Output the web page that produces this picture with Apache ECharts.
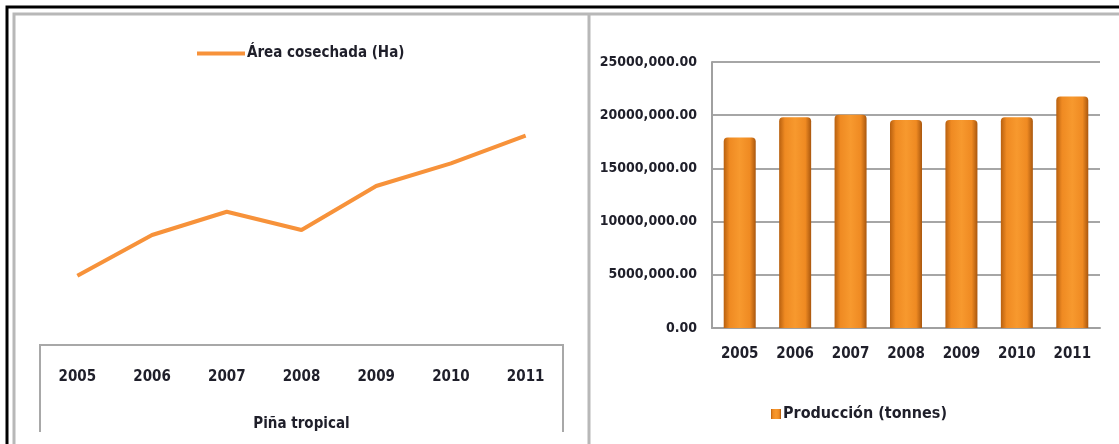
<!DOCTYPE html>
<html>
<head>
<meta charset="utf-8">
<script src="https://cdn.jsdelivr.net/npm/echarts@6/dist/echarts.min.js"></script>
<style>
  html, body { margin: 0; padding: 0; background: #fff; }
  #chart { width: 1119px; height: 444px; }
</style>
</head>
<body>
<div id="chart"></div>
<script>
// data
const years = ['2005', '2006', '2007', '2008', '2009', '2010', '2011'];
// left chart has no value axis, so the hectares are estimated on a hidden scale
const areaHa = [848600, 877200, 893500, 880700, 911600, 927500, 946900];
const production = [17900000, 19800000, 20050000, 19550000, 19550000, 19800000, 21750000];
const prodTicks = [0, 5000000, 10000000, 15000000, 20000000, 25000000];

const font = "'Liberation Sans Narrow', 'Arial Narrow', 'DejaVu Sans Condensed', sans-serif";
const ink = '#1f1f2a';

function prodLabel(v) {
    if (v === 0) return '0.00';
    return (v / 1000) + ',000.00';
}

const chart = echarts.init(document.getElementById('chart'));

const option = {
    animation: false,
    textStyle: { fontFamily: font, fontWeight: 'bold' },
    legend: [
        {
            data: ['Área cosechada (Ha)'],
            left: 192, top: 41,
            icon: 'rect', itemWidth: 48, itemHeight: 4, itemGap: 0,
            textStyle: { fontSize: 15, fontWeight: 'bold', color: ink, padding: [0, 0, 0, -3] }
        },
        {
            data: ['Producción (tonnes)'],
            left: 766, top: 401,
            icon: 'rect', itemWidth: 10, itemHeight: 10,
            textStyle: { fontSize: 16, fontWeight: 'bold', color: ink, padding: [0, 0, 0, -3] }
        }
    ],
    grid: [
        { left: 40, right: 556, top: 60, bottom: 99 },
        { left: 712, right: 19, top: 62, bottom: 116 }
    ],
    xAxis: [
        {
            gridIndex: 0, type: 'category', data: years,
            axisLine: { show: false }, axisTick: { show: false },
            axisLabel: { margin: 25, fontSize: 15, fontWeight: 'bold', color: ink },
            name: 'Piña tropical', nameLocation: 'middle', nameGap: 72,
            nameTextStyle: { fontSize: 15, fontWeight: 'bold', color: ink }
        },
        {
            gridIndex: 1, type: 'category', data: years,
            axisLine: { lineStyle: { color: '#a0a0a0', width: 2 } },
            axisTick: { show: false },
            axisLabel: { margin: 19, fontSize: 15, fontWeight: 'bold', color: ink }
        }
    ],
    yAxis: [
        {
            gridIndex: 0, type: 'value', min: 800000, max: 1000000,
            show: false
        },
        {
            gridIndex: 1, type: 'value', min: prodTicks[0], max: prodTicks[prodTicks.length - 1],
            interval: prodTicks[1] - prodTicks[0],
            axisLine: { show: true, lineStyle: { color: '#a0a0a0', width: 2 } },
            axisTick: { show: false },
            splitLine: { lineStyle: { color: '#a6a6a6', width: 2 } },
            axisLabel: { margin: 15, fontSize: 14, fontWeight: 'bold', color: ink, formatter: prodLabel }
        }
    ],
    series: [
        {
            name: 'Área cosechada (Ha)', type: 'line',
            xAxisIndex: 0, yAxisIndex: 0,
            data: areaHa, symbol: 'none',
            lineStyle: { color: '#f7923a', width: 4 },
            itemStyle: { color: '#f7923a' }
        },
        {
            name: 'Producción (tonnes)', type: 'bar',
            xAxisIndex: 1, yAxisIndex: 1,
            data: production, barWidth: 32,
            itemStyle: {
                color: new echarts.graphic.LinearGradient(0, 0, 1, 0, [
                    { offset: 0, color: '#b8600f' },
                    { offset: 0.18, color: '#ef8a22' },
                    { offset: 0.5, color: '#f7992e' },
                    { offset: 0.82, color: '#ef8a22' },
                    { offset: 1, color: '#a9570e' }
                ]),
                borderRadius: [4, 4, 0, 0]
            }
        }
    ],
    graphic: [
        // outer black frame
        { type: 'polyline', shape: { points: [[7, 444], [7, 7], [1119, 7]] }, style: { stroke: '#000', lineWidth: 3, fill: null } },
        // grey panel frame and divider
        { type: 'polyline', shape: { points: [[14, 444], [14, 14], [1119, 14]] }, style: { stroke: '#b8b8b8', lineWidth: 3, fill: null } },
        { type: 'line', shape: { x1: 589, y1: 14, x2: 589, y2: 444 }, style: { stroke: '#b8b8b8', lineWidth: 3 } },
        // table box under the line chart
        { type: 'polyline', shape: { points: [[40, 432], [40, 345], [563, 345], [563, 432]] }, style: { stroke: '#a8a8a8', lineWidth: 2, fill: null } },
        // cut-off title, only descenders visible
        { type: 'text', z: -1, style: { x: 194, y: -22, text: 'Área cosechada', textAlign: 'right', font: 'bold 22px Liberation Sans, sans-serif', fill: '#000' } },
        { type: 'text', z: -1, style: { x: 196, y: -22, text: 'y producción de piña', textAlign: 'left', font: 'bold 22px Liberation Sans, sans-serif', fill: '#000' } }
    ]
};

chart.setOption(option);
</script>
</body>
</html>
